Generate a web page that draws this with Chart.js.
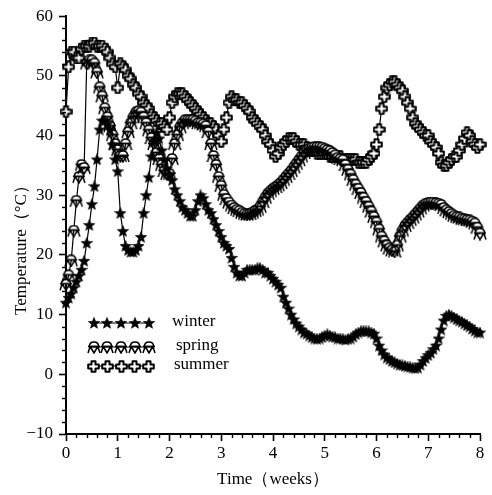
<!DOCTYPE html>
<html><head><meta charset="utf-8">
<script src="https://cdn.jsdelivr.net/npm/chart.js@4.4.1/dist/chart.umd.min.js"></script>
<style>html,body{margin:0;padding:0;background:#fff;overflow:hidden}</style>
</head><body>
<canvas id="c" width="492" height="495" style="display:block;width:492px;height:495px"></canvas>
<script>
// ---- data ----
const weeks = [0,0.05,0.1,0.15,0.2,0.25,0.3,0.35,0.4,0.45,0.5,0.55,0.6,0.65,0.7,0.75,0.8,0.85,0.9,0.95,
1,1.05,1.1,1.15,1.2,1.25,1.3,1.35,1.4,1.45,1.5,1.55,1.6,1.65,1.7,1.75,1.8,1.85,1.9,1.95,
2,2.05,2.1,2.15,2.2,2.25,2.3,2.35,2.4,2.45,2.5,2.55,2.6,2.65,2.7,2.75,2.8,2.85,2.9,2.95,
3,3.05,3.1,3.15,3.2,3.25,3.3,3.35,3.4,3.45,3.5,3.55,3.6,3.65,3.7,3.75,3.8,3.85,3.9,3.95,
4,4.05,4.1,4.15,4.2,4.25,4.3,4.35,4.4,4.45,4.5,4.55,4.6,4.65,4.7,4.75,4.8,4.85,4.9,4.95,
5,5.05,5.1,5.15,5.2,5.25,5.3,5.35,5.4,5.45,5.5,5.55,5.6,5.65,5.7,5.75,5.8,5.85,5.9,5.95,
6,6.05,6.1,6.15,6.2,6.25,6.3,6.35,6.4,6.45,6.5,6.55,6.6,6.65,6.7,6.75,6.8,6.85,6.9,6.95,
7,7.05,7.1,7.15,7.2,7.25,7.3,7.35,7.4,7.45,7.5,7.55,7.6,7.65,7.7,7.75,7.8,7.85,7.9,7.95,8];

const winter = [12,12.8,13.5,14.5,15.5,16.5,17.5,19,22,25,28.5,31.5,36,41,42.5,42.5,42,41,38.5,36,
34,27,24,21.5,20.8,20.5,20.5,20.8,21.5,23,27,30,33,36.5,39,40.5,39.5,37.5,36,34.5,
33.5,32.5,31,30,29,28,27.5,27,26.5,26.5,27.5,29,30,29.5,28.5,27.5,27,26,25,24,
23,22,21.5,21,19.5,18,17,16.5,16.5,17,17.5,17.5,17.5,17.5,17.8,17.8,17.5,17,17,16.5,
16,15.5,15,14.5,13,12,11,10,9.2,8.5,8,7.5,7,6.8,6.5,6.2,6,5.9,6,6.2,
6.5,6.7,6.5,6.3,6.2,6,6,5.9,5.8,5.9,6,6.3,6.7,7,7.2,7.3,7.2,7.2,7,6.8,
6,4.8,4,3.3,2.8,2.5,2.2,2,1.8,1.6,1.5,1.4,1.3,1.2,1.1,1,1.1,1.6,2.2,2.7,
3.2,3.6,4.2,4.8,6,7.5,9,9.8,10,9.8,9.5,9.2,9,8.8,8.5,8.2,8,7.6,7.3,7,7];

const spring = [15,16.5,19,24,29,33,35,34.5,52,52.5,52.5,52,50.5,48,46.5,44.5,43,41.5,40,38.5,
37.5,36.5,36.5,38.5,40.5,42,43,43.8,44,43.8,43,42,40.8,39.5,38.5,37,36,35,34,33.5,
33.5,36,38.5,40,41.3,42,42.5,42.5,42.5,42.5,42.3,42,42,41.8,41.5,40.5,38.5,36.5,35,33,
31.5,30,29.3,28.7,28.2,27.8,27.5,27.3,27,26.8,26.7,26.8,27,27.3,27.5,28,28.8,29.5,30.2,30.6,
31,31.3,31.6,32,32.5,33,33.5,34,34.6,35.2,35.8,36.4,37,37.4,37.7,37.9,38,38,38,37.9,
37.7,37.5,37.3,37,36.6,36.2,36,35.8,35,34.2,33.4,32.5,31.7,31,30.3,29.5,28.8,28,27.2,26.3,
25.4,24.2,23,22.2,21.5,21,20.7,20.5,21.5,23,24,24.8,25.3,25.8,26.2,26.7,27.2,27.7,28.2,28.5,
28.6,28.7,28.7,28.6,28.5,28.3,27.8,27.4,27.1,26.8,26.5,26.3,26.2,26,25.9,25.8,25.7,25.5,25.2,24.5,23.5];

const summer = [44,51.5,54,54,53,53,54.5,55,55,55,55.5,55.5,55,55,55,54.5,54,53,52,51.5,
48,52,51.5,51,50,49.5,48.5,48,47,46.5,45.5,45,44.5,43.5,43,42.5,42,42,41.5,41,
43,45.5,46.5,47,47,47,46.5,46,45.5,45,44.5,44,43.5,43,42.5,42,42,41.5,41,40,
39,41,43,45.5,46.5,46,46,45.5,45.5,45,44.5,44,43,42.5,42,41.5,41,40,39,38.5,
37.5,36.5,37,38,38.5,39,39.5,39.5,39.5,39,38.5,38.5,38.5,38,37.5,37.5,37.5,37,37,37,
37,37,36.5,36.5,36.5,36.5,36.5,36,36,36,36,36,36,35.5,35.5,35.5,35.5,36,36.5,37,
38.5,41,44.5,46.5,48,48.5,49,49,48.5,48,47.5,46.5,45.5,44.5,43,42,41.5,41,40.5,40,
40,39,38.5,38,37,35.5,35,35,35.5,36,36.5,36.5,37.5,38.5,39.5,40.5,40,39,38.5,38,38.5];

const seriesNames = ['winter', 'spring', 'summer'];
const xTickValues = [0,1,2,3,4,5,6,7,8];
const yTickValues = [-10,0,10,20,30,40,50,60];
const xTitle = 'Time（weeks）';
const yTitle = 'Temperature（°C）';

// ---- marker images ----
function makeStar(){
  const c=document.createElement('canvas'); c.width=12; c.height=12;
  const g=c.getContext('2d'); g.beginPath();
  for(let i=0;i<10;i++){const r=i%2?2.6:6; const a=-Math.PI/2+i*Math.PI/5; g.lineTo(6+r*Math.cos(a),6.4+r*Math.sin(a));}
  g.closePath(); g.fillStyle='#000'; g.fill(); g.lineWidth=0.6; g.strokeStyle='#000'; g.stroke(); return c;
}
function makeCross(){
  const c=document.createElement('canvas'); c.width=13; c.height=13;
  const g=c.getContext('2d');
  const p=[[4.5,1.2],[8.5,1.2],[8.5,4.5],[11.8,4.5],[11.8,8.5],[8.5,8.5],[8.5,11.8],[4.5,11.8],[4.5,8.5],[1.2,8.5],[1.2,4.5],[4.5,4.5]];
  g.beginPath(); p.forEach((q,i)=>i?g.lineTo(q[0],q[1]):g.moveTo(q[0],q[1])); g.closePath();
  g.fillStyle='#fff'; g.fill(); g.lineWidth=2; g.strokeStyle='#000'; g.lineJoin='round'; g.stroke();
  return c;
}
function makeHat(){
  const c=document.createElement('canvas'); c.width=14; c.height=13;
  const g=c.getContext('2d'); g.strokeStyle='#000'; g.lineWidth=1.5; g.fillStyle='#fff';
  g.beginPath(); g.moveTo(2.2,5.5); g.quadraticCurveTo(2.6,1,7,1); g.quadraticCurveTo(11.4,1,11.8,5.5); g.closePath(); g.fill(); g.stroke();
  g.beginPath(); g.moveTo(1,5.5); g.lineTo(13,5.5);
  g.moveTo(3.2,5.5); g.lineTo(1,12); g.moveTo(10.8,5.5); g.lineTo(13,12);
  g.moveTo(3.2,5.5); g.lineTo(7,12); g.lineTo(10.8,5.5); g.stroke();
  return c;
}
const markers = [makeStar(), makeHat(), makeCross()];
const seriesValues = [winter, spring, summer];

const serif = '"Liberation Serif", "Times New Roman", "DejaVu Serif", serif';

const minorTicks = {
  id:'minorTicks',
  afterDraw(chart){
    const ctx=chart.ctx, xs=chart.scales.x, ys=chart.scales.y;
    ctx.save(); ctx.strokeStyle='#000'; ctx.lineWidth=1.4;
    for(let v=-10; v<=60; v+=2){ if(v%10===0) continue; const y=Math.round(ys.getPixelForValue(v))+0.5; ctx.beginPath(); ctx.moveTo(xs.left-4,y); ctx.lineTo(xs.left,y); ctx.stroke(); }
    for(let k=0;k<=40;k++){ if(k%5===0) continue; const x=Math.round(xs.getPixelForValue(k*0.2))+0.5; ctx.beginPath(); ctx.moveTo(x,ys.bottom); ctx.lineTo(x,ys.bottom+4); ctx.stroke(); }
    ctx.restore();
  }
};

const legendAndTitle = {
  id:'legendAndTitle',
  afterDraw(chart){
    const ctx=chart.ctx;
    ctx.save();
    const rows=[323,347,366], tx=[172,176,174];
    seriesNames.forEach((name,i)=>{
      const y=rows[i];
      ctx.strokeStyle='#000'; ctx.lineWidth=1.2;
      ctx.beginPath(); ctx.moveTo(90,y); ctx.lineTo(152,y); ctx.stroke();
      const m=markers[i];
      for(let k=0;k<5;k++){ const cx=93.5+k*13.75; ctx.drawImage(m, Math.round(cx-m.width/2), Math.round(y-m.height/2)); }
      ctx.fillStyle='#000'; ctx.font='17px '+serif; ctx.textBaseline='middle'; ctx.textAlign='left';
      ctx.fillText(name, tx[i], y-1);
    });
    // y axis title
    ctx.translate(22, 246); ctx.rotate(-Math.PI/2);
    ctx.font='17px '+serif; ctx.textAlign='center'; ctx.textBaseline='middle'; ctx.fillStyle='#000';
    ctx.fillText(yTitle, 0, 0);
    ctx.restore();
  }
};

new Chart(document.getElementById('c'), {
  type:'line',
  data:{
    datasets: seriesNames.map((name,i)=>({
      label:name,
      data: weeks.map((w,j)=>({x:w, y:seriesValues[i][j]})),
      borderColor:'#000', borderWidth:1.2, pointStyle:markers[i], pointRadius:5,
      backgroundColor:'#000', tension:0, clip:false
    }))
  },
  options:{
    responsive:false, animation:false, devicePixelRatio:1,
    layout:{padding:{top:16,right:12,left:0,bottom:0}},
    plugins:{legend:{display:false}, tooltip:{enabled:false}},
    scales:{
      x:{type:'linear', min:0, max:8,
        afterFit(s){ s.height=61; },
        afterBuildTicks(s){ s.ticks = xTickValues.map(v=>({value:v})); },
        ticks:{color:'#000', font:{family:serif,size:17}, padding:2, maxRotation:0, autoSkip:false},
        grid:{drawOnChartArea:false, tickLength:7, tickWidth:1.6, tickColor:'#000'},
        border:{display:true, color:'#000', width:2},
        title:{display:true, text:xTitle, color:'#000', font:{family:serif,size:17}, padding:{top:0,bottom:5}}
      },
      y:{type:'linear', min:-10, max:60,
        afterFit(s){ s.width=66; },
        afterBuildTicks(s){ s.ticks = yTickValues.map(v=>({value:v})); },
        ticks:{color:'#000', font:{family:serif,size:17}, padding:6, autoSkip:false,
          callback:v=> v<0 ? '−'+Math.abs(v) : String(v)},
        grid:{drawOnChartArea:false, tickLength:7, tickWidth:1.6, tickColor:'#000'},
        border:{display:true, color:'#000', width:2}
      }
    }
  },
  plugins:[minorTicks, legendAndTitle]
});
</script>
</body></html>
